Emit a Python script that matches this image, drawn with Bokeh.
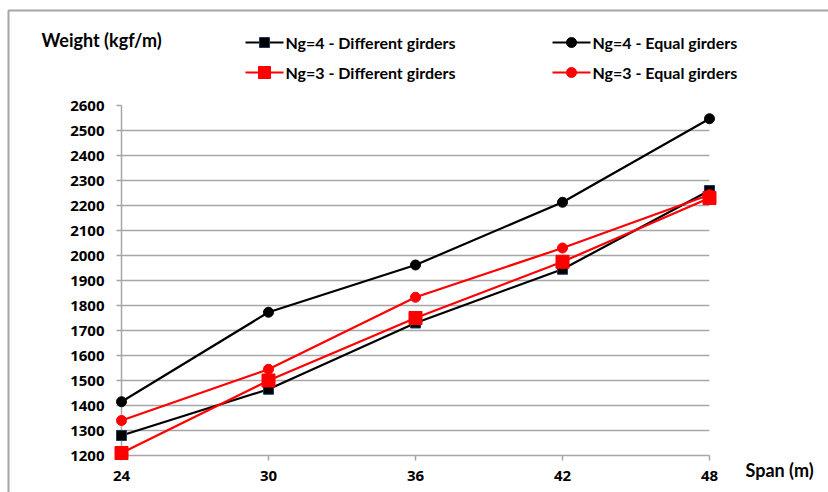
import math
from bokeh.plotting import figure
from bokeh.models import Range1d, FixedTicker
from bokeh.core.properties import value
from bokeh.embed import file_html
from bokeh.resources import INLINE

# ---- data ----
span = [24, 30, 36, 42, 48]
ng4_different = [1280, 1465, 1730, 1945, 2260]
ng4_equal = [1415, 1773, 1962, 2213, 2547]
ng3_different = [1210, 1500, 1750, 1975, 2230]
ng3_equal = [1340, 1545, 1833, 2030, 2243]
y_ticks = list(range(1200, 2601, 100))
x_ticks = [24, 30, 36, 42, 48]
labels = ["Ng=4 - Different girders", "Ng=4 - Equal girders",
          "Ng=3 - Different girders", "Ng=3 - Equal girders"]

FONT = "Lato"
TICK_FONT = "Open Sans"
GRID = "#a6a6a6"

# frame placement (pixels)
FL, FR, FT, FB = 121, 709, 105, 455
W, H = 828, 492
XMIN, XMAX, YMIN, YMAX = 24, 48, 1200, 2600

p = figure(width=W, height=H, output_backend="svg", toolbar_location=None,
           x_range=Range1d(XMIN, XMAX), y_range=Range1d(YMIN, YMAX),
           min_border_left=FL, min_border_right=W - FR,
           min_border_top=FT, min_border_bottom=H - FB)
p.outline_line_color = None
p.background_fill_color = "white"
p.border_fill_color = "white"

p.xgrid.visible = False
p.ygrid.ticker = FixedTicker(ticks=y_ticks)
p.ygrid.grid_line_color = GRID
p.ygrid.grid_line_width = 1.5

for ax, ticks, standoff in ((p.xaxis, x_ticks, 10), (p.yaxis, y_ticks, 12)):
    ax.ticker = FixedTicker(ticks=ticks)
    ax.axis_line_color = GRID
    ax.axis_line_width = 1.5
    ax.major_tick_line_color = GRID
    ax.major_tick_line_width = 1.5
    ax.major_tick_out = 5
    ax.major_tick_in = 0
    ax.minor_tick_line_color = None
    ax.major_label_text_font = TICK_FONT
    ax.major_label_text_font_style = "bold"
    ax.major_label_text_font_size = "15px"
    ax.major_label_text_color = "black"
    ax.major_label_standoff = standoff

# pixel -> data helpers for the decorations that sit outside the frame
def px2x(px):
    return XMIN + (px - FL) * (XMAX - XMIN) / (FR - FL)

def py2y(py):
    return YMIN + (FB - py) * (YMAX - YMIN) / (FB - FT)

def series(y, color, marker, size, edge):
    p.line(span, y, line_color=color, line_width=2.2, level="overlay")
    p.scatter(span, y, marker=marker, size=size, fill_color=color,
              line_color=edge, line_width=1, level="overlay")

series(ng4_different, "black", "square", 10, "#1f3864")
series(ng4_equal, "black", "circle", 10, "black")
series(ng3_equal, "#ff0000", "circle", 10, "#ff0000")
series(ng3_different, "#ff0000", "square", 13, "#ff0000")

# legend (two rows, two columns) drawn above the plot area
def legend_marker(cx, cy, marker, size, color, edge):
    r = size / 2.0
    if marker == "square":
        xs = [cx - r, cx + r, cx + r, cx - r]
        ys = [cy - r, cy - r, cy + r, cy + r]
    else:
        n = 24
        xs = [cx + r * math.cos(2 * math.pi * k / n) for k in range(n)]
        ys = [cy + r * math.sin(2 * math.pi * k / n) for k in range(n)]
    p.patch([px2x(v) for v in xs], [py2y(v) for v in ys], fill_color=color,
            line_color=edge, line_width=1, level="overlay")

styles = [("black", "square", 10, "#1f3864"), ("black", "circle", 10, "black"),
          ("#ff0000", "square", 12, "#ff0000"), ("#ff0000", "circle", 10, "#ff0000")]
cols = [245, 552]
rows = [42, 72]
for i, (lab, (color, marker, size, edge)) in enumerate(zip(labels, styles)):
    x0 = cols[i % 2]
    yr = rows[i // 2]
    p.line([px2x(x0), px2x(x0 + 38)], [py2y(yr), py2y(yr)],
           line_color=color, line_width=2.2, level="overlay")
    legend_marker(x0 + 19, yr, marker, size, color, edge)
    p.text([px2x(x0 + 40)], [py2y(yr)], text=[lab], text_font=value(FONT),
           text_font_style="bold", text_font_size="16px", text_color="black",
           text_baseline="middle", text_align="left", level="overlay")

p.text([px2x(41)], [py2y(39)], text=["Weight (kgf/m)"], text_font=value(FONT),
       text_font_style="bold", text_font_size="18px", text_color="black",
       text_baseline="middle", text_align="left", level="overlay")
p.text([px2x(745)], [py2y(469)], text=["Span (m)"], text_font=value(FONT),
       text_font_style="bold", text_font_size="18px", text_color="black",
       text_baseline="middle", text_align="left", level="overlay")

# light outer chart border (left and top edges visible)
p.line([px2x(8), px2x(8), px2x(W + 20)], [py2y(H + 20), py2y(10), py2y(10)],
       line_color="#a6a6a6", line_width=2, level="overlay")

open("out.html", "w").write(file_html(p, INLINE))
